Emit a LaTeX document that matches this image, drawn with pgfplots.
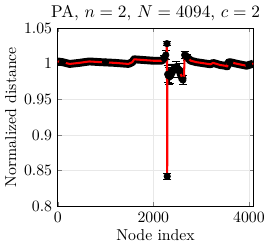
\documentclass[border=0pt]{standalone}
\usepackage{pgfplots}
\pgfplotsset{compat=1.18}
\begin{document}
\begin{tikzpicture}
\begin{axis}[
 scale only axis, width=124pt, height=113pt,
 xmin=0, xmax=4094, ymin=0.8, ymax=1.05,
 xtick={0,2000,4000},
 ytick={0.8,0.85,0.9,0.95,1,1.05},
 yticklabels={0.8,0.85,0.9,0.95,1,1.05},
 scaled x ticks=false,
 xticklabel style={/pgf/number format/1000 sep={}},
 grid=major, major grid style={gray!18, line width=0.4pt},
 tick align=inside, major tick length=2.5pt,
 axis line style={black, line width=0.5pt},
 title={PA, $n=2$, $N=4094$, $c=2$},
 title style={yshift=-5pt, font=\fontsize{10.8}{12}\selectfont},
 xlabel={Node index}, ylabel={Normalized distance},
 xlabel style={yshift=2pt}, ylabel style={yshift=-2pt},
 clip=true,
]
% black band (error bars)
\addplot[black, line width=5pt, line join=round] coordinates {
(0,1.003)(100,1.002)(250,0.9995)(450,1.001)(660,1.003)(900,1.002)(1200,1.001)
(1480,0.9995)(1560,1.002)(1600,1.006)(1800,1.005)(2000,1.004)(2170,1.004)
(2230,1.007)(2270,1.010)
};
\addplot[black, line width=5pt, line join=round] coordinates {
(2300,0.985)(2344,0.982)(2400,0.990)(2475,0.995)(2550,0.990)(2618,0.977)
};
\addplot[black, line width=5pt, line join=round] coordinates {
(2655,1.012)(2700,1.009)(2784,1.004)(2900,1.002)(3100,1.0)(3196,0.999)(3250,1.001)
(3400,0.998)(3500,0.997)(3546,0.996)(3560,1.001)(3600,1.002)(3800,0.999)(3950,0.997)(4094,1.000)
};
\addplot[black, only marks, mark=none, line width=0.5pt,
 error bars/.cd, y dir=both, y explicit,
 error mark=|, error mark options={mark size=2.6pt, line width=0.6pt}]
 coordinates {
(2230,1.007) +- (0,0.004)
(2260,1.012) +- (0,0.006)
(2285,1.028) +- (0,0.003)
(2290,0.842) +- (0,0.004)
(2300,0.985) +- (0,0.012)
(2320,0.983) +- (0,0.012)
(2344,0.982) +- (0,0.010)
(2400,0.990) +- (0,0.009)
(2475,0.995) +- (0,0.008)
(2550,0.990) +- (0,0.010)
(2618,0.977) +- (0,0.006)
(2655,1.012) +- (0,0.005)
(2700,1.009) +- (0,0.004)
(100,1.002) +- (0,0.004)
(1000,1.002) +- (0,0.004)
(3600,1.002) +- (0,0.004)
(4000,0.998) +- (0,0.004)
};
% red mean line
\addplot[red, line width=1.3pt, line join=round] coordinates {
(0,1.003)(100,1.002)(250,0.9995)(450,1.001)(660,1.003)(900,1.002)(1200,1.001)
(1480,0.9995)(1560,1.002)(1600,1.006)(1800,1.005)(2000,1.004)(2170,1.004)
(2230,1.007)(2270,1.010)(2285,1.028)(2290,0.842)(2295,0.985)
(2344,0.982)(2400,0.990)(2475,0.995)(2550,0.990)(2618,0.977)(2640,0.980)
(2655,1.012)(2700,1.009)(2784,1.004)(2900,1.002)(3100,1.0)(3196,0.999)(3250,1.001)
(3400,0.998)(3500,0.997)(3546,0.996)(3560,1.001)(3600,1.002)(3800,0.999)(3950,0.997)(4094,1.000)
};
\end{axis}
\end{tikzpicture}
\end{document}
